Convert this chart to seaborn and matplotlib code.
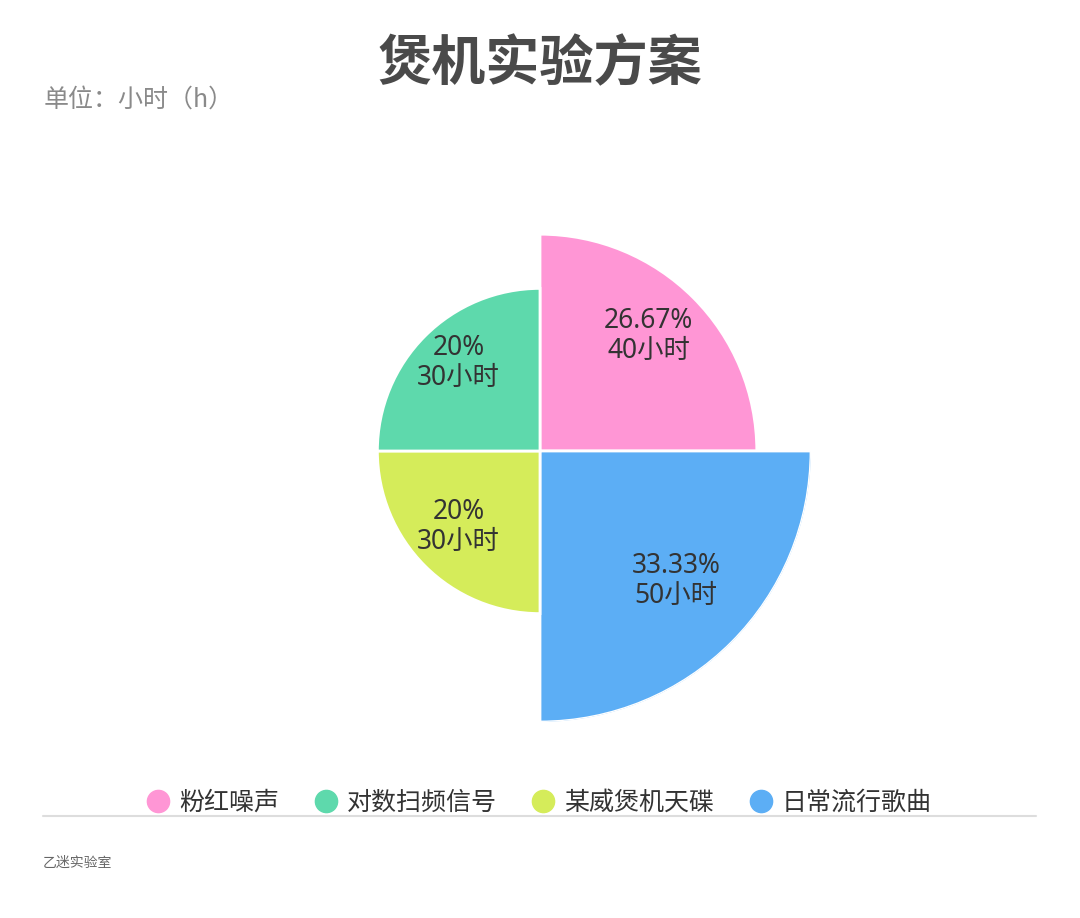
import numpy as np
import matplotlib
matplotlib.use("Agg")
import matplotlib.pyplot as plt
import matplotlib.transforms as mtransforms
from matplotlib.lines import Line2D
import seaborn as sns

# data
names = ["粉红噪声", "对数扫频信号", "某威煲机天碟", "日常流行歌曲"]
hours = [40, 30, 30, 50]
pct_labels = ["26.67%", "20%", "20%", "33.33%"]
colors = ["#FF96D5", "#5ED9AC", "#D5EC5A", "#5CAEF5"]
# clockwise from 12 o'clock: pink, blue, yellow, green
order = [0, 3, 2, 1]

sns.set_theme(style="white")
plt.rcParams['font.family'] = ['Noto Sans CJK SC', 'DejaVu Sans']

W, H = 1080, 918
fig = plt.figure(figsize=(W / 100, H / 100), dpi=100)
fig.patch.set_facecolor("white")

# polar axes, centre (540, 451) px, rmax 271 px
cx, cy, R = 540, 451, 271
ax = fig.add_axes([(cx - R) / W, (H - cy - R) / H, 2 * R / W, 2 * R / H], projection="polar")
ax.set_theta_zero_location("N")
ax.set_theta_direction(-1)
ax.set_ylim(0, max(hours))

lift = mtransforms.ScaledTranslation(0, 6 / 100, fig.dpi_scale_trans)
for k, i in enumerate(order):
    th = np.pi / 4 + k * np.pi / 2
    ax.bar(th, hours[i], width=np.pi / 2, bottom=0, color=colors[i],
           edgecolor="white", linewidth=2, align="center")
    ax.text(th, hours[i] * 0.71, pct_labels[i] + "\n" + str(hours[i]) + "小时",
            ha="center", va="center", fontsize=19, color="#333333", linespacing=1.1,
            family=['Noto Sans', 'Noto Sans CJK SC'], transform=ax.transData + lift)

ax.grid(False)
ax.set_xticks([])
ax.set_yticks([])
ax.spines["polar"].set_visible(False)
ax.set_facecolor("none")

fig.text(0.5, 1 - 65 / H, "煲机实验方案", ha="center", va="center",
         fontsize=39, fontweight="bold", color="#4a4a4a")
fig.text(44 / W, 1 - 100 / H, "单位：小时（h）", ha="left", va="center",
         fontsize=18, color="#8a8a8a")

handles = [Line2D([], [], marker="o", linestyle="", markersize=16,
                  markerfacecolor=c, markeredgecolor=c) for c in colors]
fig.legend(handles, names, loc="center", bbox_to_anchor=(0.5, 1 - 803 / H),
           ncol=4, frameon=False, fontsize=18, handlelength=0.8, handletextpad=0.45,
           columnspacing=1.45, labelcolor="#333333")

fig.add_artist(Line2D([43 / W, 1036 / W], [1 - 816 / H, 1 - 816 / H],
                      color="#dddddd", linewidth=1.5, transform=fig.transFigure))
fig.text(43 / W, 1 - 863 / H, "乙迷实验室", ha="left", va="center",
         fontsize=10, color="#666666")

fig.savefig("out.png", dpi=100, facecolor="white")
